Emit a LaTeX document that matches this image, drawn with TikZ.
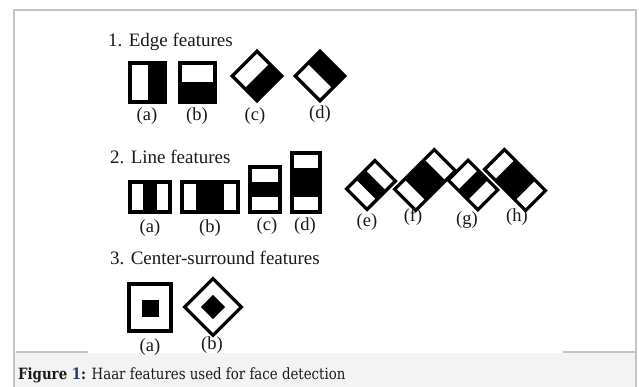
\documentclass[tikz,border=0pt]{standalone}
\usepackage{fontspec}
\setmainfont{Liberation Serif}
\newfontfamily\capfont{DejaVu Serif}
\definecolor{framegray}{HTML}{C4C4C4}
\definecolor{capbg}{HTML}{F3F3F3}
\definecolor{txt}{HTML}{1A1A1A}
\definecolor{capblue}{HTML}{1F3A78}
\begin{document}
\begin{tikzpicture}[x=1pt,y=-1pt,
  featline/.style={draw=black,line width=3.2pt,line join=miter},
  blk/.style={fill=black},
  heading/.style={anchor=west,inner sep=0pt,font=\fontsize{19}{21}\selectfont,text=txt},
  lbl/.style={inner sep=0pt,font=\fontsize{18.5}{20}\selectfont,text=txt},
  frameline/.style={draw=framegray,line width=1.4pt}]
\useasboundingbox (0,0) rectangle (639,387);
\fill[white] (0,0) rectangle (639,387);
% caption band and frame
\fill[capbg] (14,353) rectangle (636,387);
\draw[frameline] (14,387) -- (14,10) -- (636,10) -- (636,387);
\draw[frameline] (16,352) -- (88,352);
\draw[frameline] (563,352) -- (636,352);

% headings
\node[heading] (h1) at (108,42) {1. Edge features};
\node[heading] (h2) at (110,157) {2. Line features};
\node[heading] (h3) at (110,258) {3. Center-surround features};

% ---- Edge features
\fill[blk] (147.5,63) rectangle (165,102);
\draw[featline] (130,63) rectangle (165,102);
\fill[blk] (180,82.5) rectangle (215,102);
\draw[featline] (180,63) rectangle (215,102);
\begin{scope}[shift={(257,76)},rotate=45]
  \fill[blk] (-17.5,0) rectangle (17.5,17.5);
  \draw[featline] (-17.5,-17.5) rectangle (17.5,17.5);
\end{scope}
\begin{scope}[shift={(320,76)},rotate=45]
  \fill[blk] (0,-17.5) rectangle (17.5,17.5);
  \draw[featline] (-17.5,-17.5) rectangle (17.5,17.5);
\end{scope}
\node[lbl] (e1a) at (147,116) {(a)};
\node[lbl] (e1b) at (197,116) {(b)};
\node[lbl] (e1c) at (255,116) {(c)};
\node[lbl] (e1d) at (320,114) {(d)};

% ---- Line features
\fill[blk] (143.3,182) rectangle (156.7,212);
\draw[featline] (130,182) rectangle (170,212);
\fill[blk] (196,182) rectangle (224,212);
\draw[featline] (182,182) rectangle (238,212);
\fill[blk] (250,182) rectangle (280,197);
\draw[featline] (250,167) rectangle (280,212);
\fill[blk] (292,168) rectangle (320,197.5);
\draw[featline] (292,153) rectangle (320,212);
% rotated line features
\begin{scope}[shift={(371,185)},rotate=45]
  \fill[blk] (-6.7,-14.5) rectangle (6.7,14.5);
  \draw[featline] (-20,-14.5) rectangle (20,14.5);
\end{scope}
\begin{scope}[shift={(425,180)},rotate=45]
  \fill[blk] (-14,-15) rectangle (14,15);
  \draw[featline] (-28,-15) rectangle (28,15);
\end{scope}
\begin{scope}[shift={(473,185)},rotate=45]
  \fill[blk] (-14,-7) rectangle (14,7);
  \draw[featline] (-14,-21) rectangle (14,21);
\end{scope}
\begin{scope}[shift={(515,180)},rotate=45]
  \fill[blk] (-14,-14.5) rectangle (14,14.5);
  \draw[featline] (-14,-29) rectangle (14,29);
\end{scope}
\node[lbl] (l2a) at (150,228) {(a)};
\node[lbl] (l2b) at (210,228) {(b)};
\node[lbl] (l2c) at (267,226) {(c)};
\node[lbl] (l2d) at (305,226) {(d)};
\node[lbl] (l2e) at (367,222) {(e)};
\node[lbl] (l2f) at (413,217) {(f)};
\node[lbl] (l2g) at (467,220) {(g)};
\node[lbl] (l2h) at (517,217) {(h)};

% ---- Center-surround features
\fill[blk] (141.5,299.5) rectangle (158.5,317);
\draw[featline] (129,284) rectangle (171,331);
\begin{scope}[shift={(213,307)},rotate=45]
  \fill[blk] (-8.5,-8.5) rectangle (8.5,8.5);
  \draw[featline] (-20,-20) rectangle (20,20);
\end{scope}
\node[lbl] (c3a) at (150,347) {(a)};
\node[lbl] (c3b) at (212,345) {(b)};

% caption
\node[anchor=west,inner sep=0pt,font=\capfont\fontsize{15.5}{17}\selectfont,text=txt] (cap) at (18,375)
  {\scalebox{0.86}[1]{\textbf{Figure \textcolor{capblue}{1}:} Haar features used for face detection}};
\end{tikzpicture}
\end{document}
